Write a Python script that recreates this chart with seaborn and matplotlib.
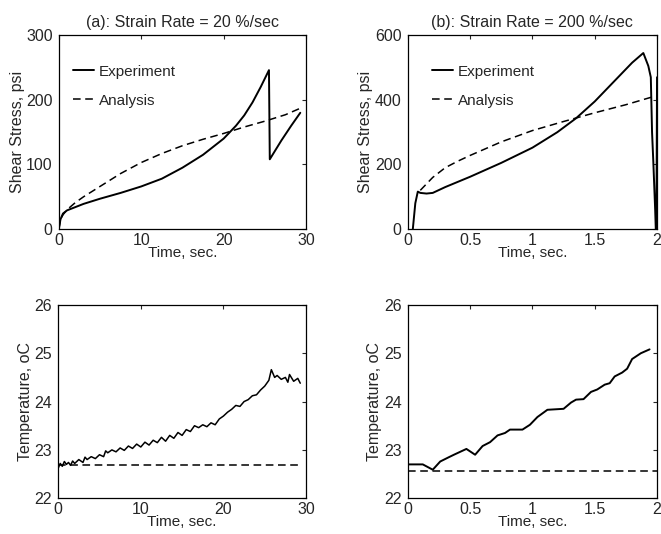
import numpy as np
import pandas as pd
import matplotlib
matplotlib.use("Agg")
import matplotlib.pyplot as plt
import seaborn as sns

# (a) shear stress, strain rate 20 %/sec
a_exp_t = [0, 0.2, 0.5, 1.0, 2.0, 3.0, 5.0, 7.5, 10.0, 12.5, 15.0, 17.5, 20.0,
           21.5, 22.5, 23.5, 24.5, 25.5, 25.6, 27.0, 28.2, 29.3]
a_exp_s = [0, 15, 24, 29, 34, 39, 47, 56, 66, 78, 95, 115, 140,
           160, 176, 196, 220, 246, 108, 137, 160, 180]
a_ana_t = [0, 0.2, 0.5, 1.0, 2.0, 3.0, 5.0, 7.5, 10.0, 12.5, 15.0, 17.5, 20.0,
           22.5, 25.0, 27.5, 29.3]
a_ana_s = [0, 15, 22, 30, 41, 50, 66, 86, 103, 117, 129, 139, 148,
           158, 167, 177, 187]

# (b) shear stress, strain rate 200 %/sec
b_exp_t = [0.04, 0.06, 0.08, 0.1, 0.15, 0.2, 0.3, 0.5, 0.75, 1.0, 1.2, 1.35,
           1.5, 1.65, 1.8, 1.89, 1.93, 1.95, 1.96, 1.97, 1.985, 1.99, 1.995, 2.0]
b_exp_s = [0, 80, 116, 112, 110, 112, 130, 162, 205, 252, 300, 343,
           395, 455, 515, 545, 505, 470, 300, 210, 60, 0, 0, 470]
b_ana_t = [0.1, 0.2, 0.3, 0.4, 0.5, 0.75, 1.0, 1.25, 1.5, 1.75, 1.97]
b_ana_s = [120, 160, 190, 210, 228, 270, 305, 333, 360, 385, 410]

# (a) temperature
ta_t = [0, 0.25, 0.5, 0.75, 1.0, 1.25, 1.5, 1.75, 2.0, 2.5, 3.0, 3.25, 3.5,
        4.0, 4.5, 5.0, 5.5, 5.75, 6.0, 6.5, 7.0, 7.5, 8.0, 8.5, 9.0, 9.5,
        10.0, 10.5, 11.0, 11.5, 12.0, 12.5, 13.0, 13.5, 14.0, 14.5, 15.0,
        15.5, 16.0, 16.5, 17.0, 17.5, 18.0, 18.5, 19.0, 19.5, 20.0, 20.5,
        21.0, 21.5, 22.0, 22.5, 23.0, 23.5, 24.0, 24.5, 25.0, 25.5, 25.8,
        26.2, 26.5, 27.0, 27.5, 27.8, 28.0, 28.5, 29.0, 29.3]
ta_exp = [22.62, 22.72, 22.66, 22.76, 22.70, 22.74, 22.68, 22.77, 22.72,
          22.80, 22.74, 22.85, 22.80, 22.86, 22.82, 22.90, 22.86, 22.98,
          22.94, 23.00, 22.96, 23.04, 22.99, 23.08, 23.03, 23.12, 23.06,
          23.16, 23.10, 23.20, 23.15, 23.26, 23.18, 23.30, 23.24, 23.36,
          23.30, 23.42, 23.38, 23.50, 23.46, 23.52, 23.48, 23.56, 23.52,
          23.64, 23.70, 23.78, 23.84, 23.92, 23.90, 24.00, 24.04, 24.12,
          24.14, 24.24, 24.32, 24.44, 24.66, 24.50, 24.54, 24.46, 24.50,
          24.40, 24.56, 24.42, 24.48, 24.38]
ta_ana_t = [0, 29.3]
ta_ana = [22.68, 22.68]

# (b) temperature
tb_t = [0, 0.12, 0.2, 0.26, 0.33, 0.37, 0.47, 0.54, 0.6, 0.66, 0.72, 0.78,
        0.82, 0.92, 0.98, 1.04, 1.12, 1.25, 1.31, 1.35, 1.41, 1.47, 1.52,
        1.58, 1.62, 1.66, 1.72, 1.76, 1.8, 1.87, 1.94]
tb_exp = [22.7, 22.7, 22.59, 22.76, 22.85, 22.9, 23.02, 22.9, 23.08, 23.16,
          23.3, 23.35, 23.42, 23.42, 23.52, 23.68, 23.83, 23.85, 23.98, 24.04,
          24.05, 24.2, 24.25, 24.35, 24.38, 24.52, 24.6, 24.68, 24.88, 25.0,
          25.08]
tb_ana_t = [0, 2.0]
tb_ana = [22.57, 22.57]

sns.set_style("white")
plt.rcParams['font.family'] = ['Liberation Sans', 'DejaVu Sans']

fig = plt.figure(figsize=(6.61, 5.34), dpi=100)
ax_a = fig.add_axes([0.089, 0.571, 0.374, 0.363])
ax_b = fig.add_axes([0.617, 0.571, 0.377, 0.363])
ax_c = fig.add_axes([0.088, 0.067, 0.375, 0.362])
ax_d = fig.add_axes([0.617, 0.067, 0.377, 0.362])

solid = dict(color='black', linewidth=1.4, estimator=None, sort=False)
dashed = dict(color='black', linewidth=1.1, estimator=None, sort=False,
              linestyle=(0, (5, 3)))

sns.lineplot(x=a_exp_t, y=a_exp_s, ax=ax_a, label='Experiment', **solid)
sns.lineplot(x=a_ana_t, y=a_ana_s, ax=ax_a, label='Analysis', **dashed)
sns.lineplot(x=b_exp_t, y=b_exp_s, ax=ax_b, label='Experiment', **solid)
sns.lineplot(x=b_ana_t, y=b_ana_s, ax=ax_b, label='Analysis', **dashed)
sns.lineplot(x=ta_t, y=ta_exp, ax=ax_c, linewidth=1.1, color='black', estimator=None, sort=False)
sns.lineplot(x=ta_ana_t, y=ta_ana, ax=ax_c, **dashed)
sns.lineplot(x=tb_t, y=tb_exp, ax=ax_d, **solid)
sns.lineplot(x=tb_ana_t, y=tb_ana, ax=ax_d, **dashed)

ax_a.set(xlim=(0, 30), ylim=(0, 300), xticks=[0, 10, 20, 30], yticks=[0, 100, 200, 300])
ax_b.set(xlim=(0, 2), ylim=(0, 600), xticks=[0, 0.5, 1, 1.5, 2], yticks=[0, 200, 400, 600])
ax_b.set_xticklabels(['0', '0.5', '1', '1.5', '2'])
ax_c.set(xlim=(0, 30), ylim=(22, 26), xticks=[0, 10, 20, 30], yticks=[22, 23, 24, 25, 26])
ax_d.set(xlim=(0, 2), ylim=(22, 26), xticks=[0, 0.5, 1, 1.5, 2], yticks=[22, 23, 24, 25, 26])
ax_d.set_xticklabels(['0', '0.5', '1', '1.5', '2'])

ax_a.set_title("(a): Strain Rate = 20 %/sec", fontsize=11.5, pad=6)
ax_b.set_title("(b): Strain Rate = 200 %/sec", fontsize=11.5, pad=6)

for ax, ylab in [(ax_a, "Shear Stress, psi"), (ax_b, "Shear Stress, psi"),
                 (ax_c, "Temperature, oC"), (ax_d, "Temperature, oC")]:
    ax.set_xlabel("Time, sec.", fontsize=11, labelpad=-1)
    ax.set_ylabel(ylab, fontsize=11.5, labelpad=1)
    ax.tick_params(direction='in', length=3, width=0.8, labelsize=11.5,
                   top=True, right=True)
    ax.tick_params(axis='x', pad=2.5)
    ax.tick_params(axis='y', pad=4.5)
    for s in ax.spines.values():
        s.set_color('black')
        s.set_linewidth(0.9)

ax_a.legend(loc='upper left', bbox_to_anchor=(0.0, 0.92), frameon=False,
            fontsize=11, handlelength=1.4, handletextpad=0.3, labelspacing=1.0)
ax_b.legend(loc='upper left', bbox_to_anchor=(0.04, 0.92), frameon=False,
            fontsize=11, handlelength=1.4, handletextpad=0.3, labelspacing=1.0)

fig.savefig("out.png", dpi=100)
